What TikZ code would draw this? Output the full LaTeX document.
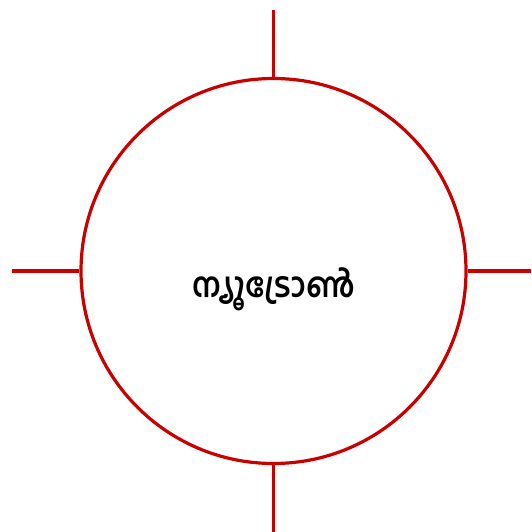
\documentclass[tikz,border=0pt]{standalone}
\usepackage{fontspec}
\newfontfamily\malfont[Script=Malayalam]{Hind Kochi}
\definecolor{ringred}{RGB}{200,0,0}
\tikzset{spoke/.style={ringred,line width=3.2pt}}
\begin{document}
\begin{tikzpicture}[x=1pt,y=-1pt]
\useasboundingbox (0,0) rectangle (531,532);
\node[draw=ringred,line width=3.2pt,circle,minimum size=385pt,inner sep=0pt] (ring) at (273.5,271) {};
\node[yscale=1.15] (name) at (273.5,289) {\malfont\bfseries\fontsize{30}{36}\selectfont ന്യൂട്രോൺ};
\coordinate (top) at (273.5,10);
\coordinate (left) at (12,271);
\coordinate (right) at (531,271);
\coordinate (bottom) at (273.5,532);
\draw[spoke] (top) -- (ring.north);
\draw[spoke] (left) -- (ring.west);
\draw[spoke] (right) -- (ring.east);
\draw[spoke] (bottom) -- (ring.south);
\end{tikzpicture}
\end{document}
